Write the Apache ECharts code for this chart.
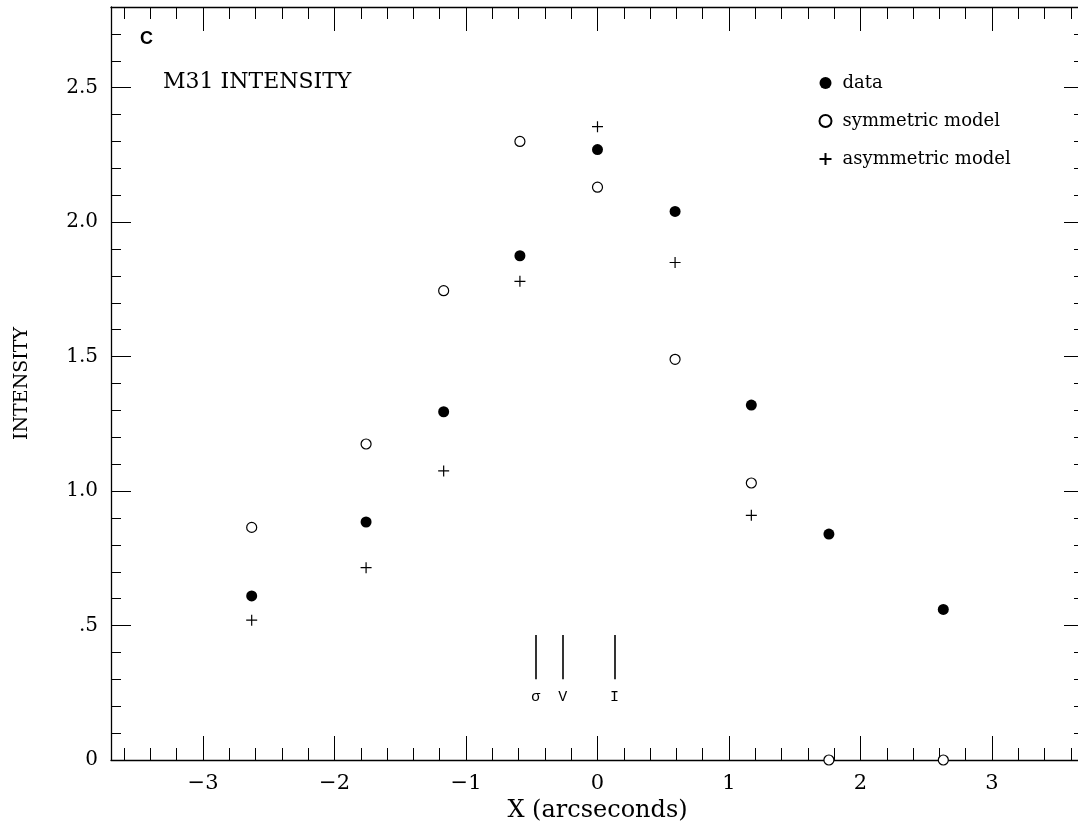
<!DOCTYPE html>
<html>
<head>
<meta charset="utf-8">
<script src="https://cdn.jsdelivr.net/npm/echarts@6/dist/echarts.min.js"></script>
<style>
html, body { margin: 0; padding: 0; background: #fff; }
#main { width: 1078px; height: 822px; }
</style>
</head>
<body>
<div id="main"></div>
<script>
// slit positions (arcsec) and intensities
var xPos = [-2.63, -1.76, -1.17, -0.59, 0, 0.59, 1.17, 1.76, 2.63];
var dataVals = [0.61, 0.885, 1.295, 1.875, 2.27, 2.04, 1.32, 0.84, 0.56];
var symVals = [0.865, 1.175, 1.745, 2.30, 2.13, 1.49, 1.03, 0.0, 0.0];
var asymVals = [0.52, 0.715, 1.075, 1.78, 2.355, 1.85, 0.91, null, null];

// sigma / V / I centre markers
var markX = [-0.47, -0.265, 0.13];
var markNames = ['σ', 'V', 'I'];

// ticks
var xMajor = [-3, -2, -1, 0, 1, 2, 3];
var xMinor = [-3.6, -3.4, -3.2, -2.8, -2.6, -2.4, -2.2, -1.8, -1.6, -1.4, -1.2,
  -0.8, -0.6, -0.4, -0.2, 0.2, 0.4, 0.6, 0.8, 1.2, 1.4, 1.6, 1.8,
  2.2, 2.4, 2.6, 2.8, 3.2, 3.4, 3.6];
var yMajor = [0, 0.5, 1, 1.5, 2, 2.5];
var yMinor = [0.1, 0.2, 0.3, 0.4, 0.6, 0.7, 0.8, 0.9, 1.1, 1.2, 1.3, 1.4,
  1.6, 1.7, 1.8, 1.9, 2.1, 2.2, 2.3, 2.4, 2.6, 2.7];

var serif = 'DejaVu Serif';

function pairs(vals) {
  var out = [];
  for (var i = 0; i < xPos.length; i++) {
    if (vals[i] != null) out.push([xPos[i], vals[i]]);
  }
  return out;
}

function xAx(pos, ticks, len, line, labels) {
  return {
    type: 'value', position: pos, min: -3.7, max: 3.7,
    axisLine: { show: line, onZero: false, lineStyle: { color: '#000', width: 1.3 } },
    axisTick: { show: true, inside: true, length: len, customValues: ticks, lineStyle: { color: '#000', width: 1 } },
    axisLabel: labels ? {
      show: true, customValues: xMajor, margin: 13, color: '#000',
      fontFamily: serif, fontSize: 21,
      formatter: function (v) { return String(v).replace('-', '\u2212'); }
    } : { show: false },
    splitLine: { show: false }
  };
}

function yAx(pos, ticks, len, line, labels) {
  return {
    type: 'value', position: pos, min: 0, max: 2.8,
    axisLine: { show: line, onZero: false, lineStyle: { color: '#000', width: 1.3 } },
    axisTick: { show: true, inside: true, length: len, customValues: ticks, lineStyle: { color: '#000', width: 1 } },
    axisLabel: labels ? {
      show: true, customValues: yMajor, margin: 13, color: '#000',
      fontFamily: serif, fontSize: 20,
      formatter: function (v) {
        if (v === 0) return '0';
        var s = v.toFixed(1);
        return s.charAt(0) === '0' ? s.substring(1) : s;
      }
    } : { show: false },
    splitLine: { show: false }
  };
}

var xMain = xAx('bottom', xMajor, 24, true, true);
xMain.name = 'X (arcseconds)';
xMain.nameLocation = 'middle';
xMain.nameGap = 31;
xMain.nameTextStyle = { color: '#000', fontFamily: serif, fontSize: 24 };

var yMain = yAx('left', yMajor, 20, true, true);
yMain.name = 'INTENSITY';
yMain.nameLocation = 'middle';
yMain.nameGap = 79;
yMain.nameTextStyle = { color: '#000', fontFamily: serif, fontSize: 19 };

var myChart = echarts.init(document.getElementById('main'), null, { renderer: 'canvas' });

var option = {
  backgroundColor: '#fff',
  animation: false,
  grid: { left: 111, right: -6, top: 7, bottom: 62, containLabel: false, outerBoundsMode: 'none' },
  xAxis: [
    xMain,
    xAx('bottom', xMinor, 12, false, false),
    xAx('top', xMajor, 24, true, false),
    xAx('top', xMinor, 12, false, false)
  ],
  yAxis: [
    yMain,
    yAx('left', yMinor, 10, false, false),
    yAx('right', yMajor, 20, true, false),
    yAx('right', yMinor, 10, false, false)
  ],
  legend: {
    data: ['data', 'symmetric model', 'asymmetric model'],
    orient: 'vertical',
    left: 812, top: 69,
    itemWidth: 12, itemHeight: 12, itemGap: 20,
    selectedMode: false,
    textStyle: { color: '#000', fontFamily: serif, fontSize: 18, padding: [0, 0, 0, 6] }
  },
  graphic: [
    { type: 'text', left: 140, top: 30, style: { text: 'C', font: 'bold 18px "Liberation Sans"', fill: '#000' } },
    { type: 'text', left: 163, top: 71, style: { text: 'M31 INTENSITY', font: '22px "DejaVu Serif"', fill: '#000' } }
  ],
  series: [
    {
      name: 'data', type: 'scatter', data: pairs(dataVals),
      symbol: 'circle', symbolSize: 11,
      itemStyle: { color: '#000', opacity: 1 }
    },
    {
      name: 'symmetric model', type: 'scatter', data: pairs(symVals),
      symbol: 'circle', symbolSize: 10,
      itemStyle: { color: '#fff', borderColor: '#000', borderWidth: 1.2, opacity: 1 }
    },
    {
      name: 'asymmetric model', type: 'scatter', data: pairs(asymVals),
      symbol: 'path://M5,0L5,10M0,5L10,5', symbolSize: 11,
      itemStyle: { color: 'none', borderColor: '#000', borderWidth: 1.2, opacity: 1 }
    },
    {
      name: 'markers', type: 'scatter', data: [],
      markLine: {
        silent: true, symbol: ['none', 'none'], animation: false,
        lineStyle: { color: '#000', width: 1.6, type: 'solid' },
        label: { show: true, position: 'start', distance: 10, formatter: '{b}', color: '#000', fontFamily: 'Liberation Mono', fontSize: 15 },
        data: markX.map(function (x, i) {
          return [{ coord: [x, 0.3], name: markNames[i] }, { coord: [x, 0.465] }];
        })
      }
    }
  ]
};

myChart.setOption(option);
</script>
</body>
</html>
